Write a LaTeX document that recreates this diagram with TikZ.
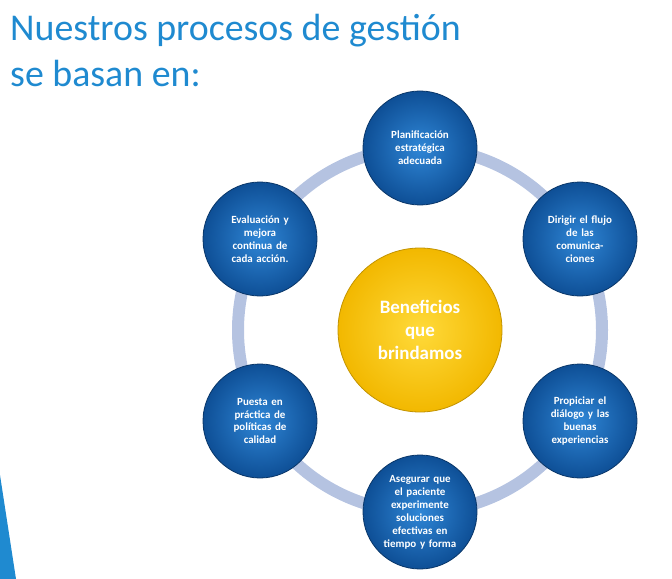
\documentclass[tikz,border=0pt]{standalone}
\usepackage{fontspec}
\setmainfont{Carlito}
\begin{document}
\begin{tikzpicture}[x=1bp,y=-1bp]
\definecolor{ttl}{HTML}{1F8AD0}
\definecolor{ringc}{HTML}{B5C3E1}
\definecolor{bdark}{HTML}{0E4F96}
\definecolor{blight}{HTML}{2F86D6}
\definecolor{ydark}{HTML}{F2B800}
\definecolor{ylight}{HTML}{FFDA3A}
\tikzset{
 outc/.style={circle,minimum size=114bp,inner sep=0pt,draw=bdark!70!black,line width=0.8bp,
   inner color=blight,outer color=bdark,text=white,font=\bfseries\fontsize{11}{13}\selectfont,align=center,text width=80bp},
 cenc/.style={circle,minimum size=164bp,inner sep=0pt,draw=ydark!80!black,line width=0.8bp,
   inner color=ylight,outer color=ydark,text=white,font=\bfseries\fontsize{19}{23}\selectfont,align=center}
}
\useasboundingbox (0,0) rectangle (672,579);
\fill[ttl] (0,475) -- (16,579) -- (0,579) -- cycle;
\node[anchor=north west,inner sep=0pt,text=ttl,font=\fontsize{38}{46}\selectfont,align=left] (t) at (10,14) {Nuestros procesos de gestión\\se basan en:};
\coordinate (o) at (420,330);
\draw[ringc,line width=12bp] (o) circle (182);
\node[cenc] (c) at (o) {Beneficios\\que\\brindamos};
\node[outc] (n1) at (420,148) {Planificación\\estratégica\\adecuada};
\node[outc] (n2) at (580,239) {Dirigir el flujo\\de las\\comunica-\\ciones};
\node[outc] (n3) at (580,421) {Propiciar el\\diálogo y las\\buenas\\experiencias};
\node[outc] (n4) at (420,512) {Asegurar que\\el paciente\\experimente\\soluciones\\efectivas en\\tiempo y forma};
\node[outc] (n5) at (260,421) {Puesta en\\práctica de\\políticas de\\calidad};
\node[outc] (n6) at (260,239) {Evaluación y\\mejora\\continua de\\cada acción.};
\end{tikzpicture}
\end{document}
